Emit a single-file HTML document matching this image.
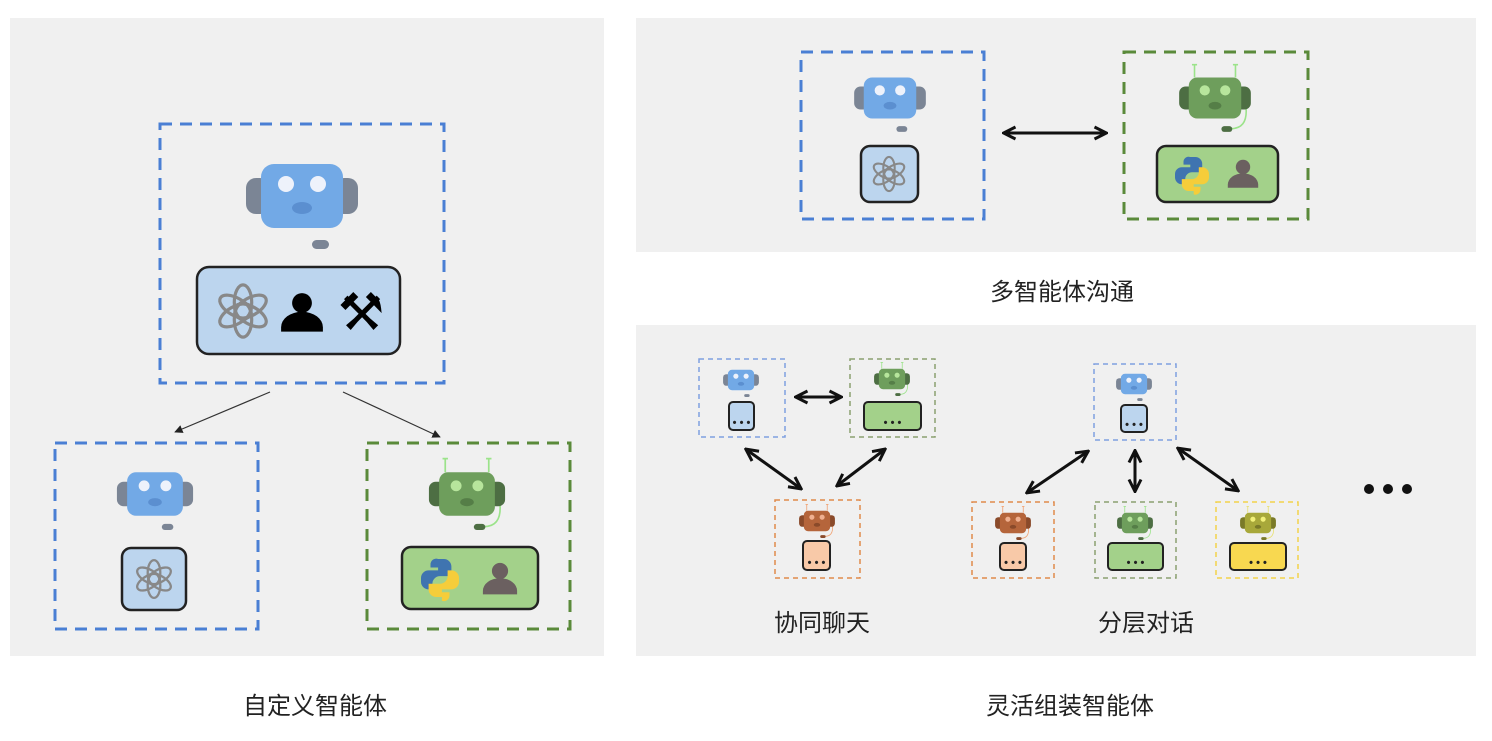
<!DOCTYPE html>
<html><head><meta charset="utf-8"><style>
html,body{margin:0;padding:0;background:#fff;width:1492px;height:741px;overflow:hidden}
svg{display:block}
text{font-family:"Liberation Sans","Noto Sans CJK SC",sans-serif;fill:#222}
</style></head><body>
<svg id="s" width="1492" height="741" viewBox="0 0 1492 741" xmlns="http://www.w3.org/2000/svg">
<defs>
<marker id="ah" viewBox="0 0 10 10" refX="9" refY="5" markerWidth="7" markerHeight="7" orient="auto-start-reverse"><path d="M0,0 L10,5 L0,10 z" fill="#222"/></marker>
<marker id="ah2" viewBox="0 0 10 10" refX="8" refY="5" markerWidth="5" markerHeight="5" orient="auto-start-reverse"><path d="M1,1 L9,5 L1,9" fill="none" stroke="#111" stroke-width="2"/></marker>
</defs>
<rect x="10" y="18" width="594" height="638" fill="#f0f0f0"/>
<rect x="636" y="18" width="840" height="234" fill="#f0f0f0"/>
<rect x="636" y="325" width="840" height="331" fill="#f0f0f0"/>
<g id="g"></g>
<text x="315" y="714" font-size="24" text-anchor="middle">自定义智能体</text>
<text x="1062" y="300" font-size="24" text-anchor="middle">多智能体沟通</text>
<text x="1070" y="714" font-size="24" text-anchor="middle">灵活组装智能体</text>
<text x="822" y="631" font-size="24" text-anchor="middle">协同聊天</text>
<text x="1146" y="631" font-size="24" text-anchor="middle">分层对话</text>
<text x="361" y="330" font-size="52" text-anchor="middle" style="fill:#000">⚒</text>
</svg>
<script>
var C={
 b:{h:'#72a9e6',e:'#7b8595',eye:'#eef2fb',m:'#5b8fd0',c:'#7b8595',ant:null},
 g:{h:'#6e9e5c',e:'#4d6e43',eye:'#b7e59c',m:'#557e47',c:'#4d6e43',ant:'#9be38a'},
 o:{h:'#b5653b',e:'#8a4a2a',eye:'#f0b090',m:'#8a4a2a',c:'#8a4a2a',ant:'#f0a070'},
 y:{h:'#a8a83a',e:'#7a7a28',eye:'#f2f07a',m:'#7a7a28',c:'#7a7a28',ant:'#e8e070'}
};
function bot(cx,cy,s,k){var c=C[k],o='<g transform="translate('+cx+','+cy+') scale('+s+')">';
 if(c.ant){o+='<path d="M-32,-32 V-52 M32,-32 V-52 M-36,-52 h8 M28,-52 h8" stroke="'+c.ant+'" stroke-width="2.5" fill="none"/>';
  o+='<path d="M48,10 C52,40 40,48 24,48" stroke="'+c.ant+'" stroke-width="2.5" fill="none"/>';}
 o+='<rect x="-56" y="-18" width="24" height="36" rx="10" fill="'+c.e+'"/><rect x="32" y="-18" width="24" height="36" rx="10" fill="'+c.e+'"/>';
 o+='<rect x="-41" y="-32" width="82" height="64" rx="13" fill="'+c.h+'"/>';
 o+='<circle cx="-16" cy="-12" r="8" fill="'+c.eye+'"/><circle cx="16" cy="-12" r="8" fill="'+c.eye+'"/>';
 o+='<ellipse cx="0" cy="12" rx="10" ry="6" fill="'+c.m+'"/>';
 o+='<rect x="10" y="44" width="17" height="9" rx="4.5" fill="'+c.c+'"/></g>';return o;}
function box(x1,y1,x2,y2,col,w,d){return '<rect x="'+x1+'" y="'+y1+'" width="'+(x2-x1)+'" height="'+(y2-y1)+'" fill="none" stroke="'+col+'" stroke-width="'+w+'" stroke-dasharray="'+d+'"/>';}
function inner(x1,y1,x2,y2,f,w,r){return '<rect x="'+x1+'" y="'+y1+'" width="'+(x2-x1)+'" height="'+(y2-y1)+'" rx="'+r+'" fill="'+f+'" stroke="#222" stroke-width="'+w+'"/>';}
function dots(cx,cy){return '<text x="'+cx+'" y="'+cy+'" font-size="11" text-anchor="middle" style="fill:#222;font-weight:bold">• • •</text>';}
function oai(cx,cy,s){var o='<g transform="translate('+cx+','+cy+') scale('+s+')" fill="none" stroke="#888" stroke-width="2.2">';
 for(var i=0;i<6;i++)o+='<ellipse cx="0" cy="-6" rx="6" ry="12" transform="rotate('+(i*60)+')"/>';return o+'</g>';}
function person(cx,cy,s,col){return '<g transform="translate('+cx+','+cy+') scale('+s+')" fill="'+col+'"><circle cx="0" cy="-10" r="9"/><path d="M-19,16 v-4 a19,14 0 0 1 38,0 v4 z"/></g>';}
function py(cx,cy,s){return '<g transform="translate('+cx+','+cy+') scale('+s+')"><path d="M-2,-20 h6 a8,8 0 0 1 8,8 v10 h-12 a8,8 0 0 0 -8,8 v6 h-4 a8,8 0 0 1 -8,-8 v-4 a8,8 0 0 1 8,-8 h10 v-3 h-8 v-3 a6,6 0 0 1 8,-6 z" fill="#3f74b0"/><path d="M2,20 h-6 a8,8 0 0 1 -8,-8 v-6 h12 a8,8 0 0 0 8,-8 v-6 h4 a8,8 0 0 1 8,8 v4 a8,8 0 0 1 -8,8 h-10 v3 h8 v3 a6,6 0 0 1 -8,6 z" fill="#f5cd3a"/></g>';}
var h='';
var B='#4a7fd4',G='#5a8a3a',O='#e08a4a',Y='#f2d24a';
h+=box(160,124,444,383,B,3,'12,8');
h+=bot(302,196,1,'b');
h+=inner(197,267,400,354,'#bcd5ee',2.5,12);
h+=oai(243,311,1.45);
h+=person(302,314,1.1,'#000');
h+='<line x1="270" y1="392" x2="175" y2="432" stroke="#333" stroke-width="1.2" marker-end="url(#ah)"/>';
h+='<line x1="343" y1="392" x2="440" y2="437" stroke="#333" stroke-width="1.2" marker-end="url(#ah)"/>';
h+=box(55,443,258,629,B,3,'12,8');
h+=bot(155,494,0.68,'b');
h+=inner(122,548,186,610,'#bcd5ee',2.5,9);
h+=oai(154,579,1.05);
h+=box(367,443,570,629,G,3,'12,8');
h+=bot(467,494,0.68,'g');
h+=inner(402,547,538,609,'#a3d18a',2.5,9);
h+=py(440,578,0.95);
h+=person(500,580,0.9,'#6b6060');
h+=box(801,52,984,219,B,3,'12,8');
h+=bot(890,98,0.64,'b');
h+=inner(861,146,918,202,'#bcd5ee',2.5,9);
h+=oai(889,174,0.95);
h+=box(1124,52,1308,219,G,3,'12,8');
h+=bot(1215,98,0.64,'g');
h+=inner(1157,146,1278,202,'#a3d18a',2.5,9);
h+=py(1192,174,0.85);
h+=person(1243,175,0.8,'#6b6060');
h+='<line x1="1005" y1="133" x2="1105" y2="133" stroke="#111" stroke-width="3" marker-start="url(#ah2)" marker-end="url(#ah2)"/>';
function sm(x1,y1,x2,y2,col,k,rx,ry,ix1,iy1,ix2,iy2,f){
 return box(x1,y1,x2,y2,col,1.5,'5,4')+bot(rx,ry,0.32,k)+inner(ix1,iy1,ix2,iy2,f,2,4)+dots((ix1+ix2)/2,iy2-4);}
h+=sm(699,359,785,437,'#7f9fe0','b',741,380,729,402,754,430,'#bcd5ee');
h+=sm(850,359,935,437,'#8aa070','g',892,379,864,402,921,430,'#a3d18a');
h+=sm(775,500,860,578,O,'o',817,521,803,541,830,570,'#f8c9a8');
h+=sm(1094,364,1176,440,'#7f9fe0','b',1134,384,1121,405,1147,432,'#bcd5ee');
h+=sm(972,502,1054,578,O,'o',1013,523,1000,543,1026,570,'#f8c9a8');
h+=sm(1095,502,1176,578,'#8aa070','g',1135,523,1108,543,1163,570,'#a3d18a');
h+=sm(1216,502,1298,578,Y,'y',1258,523,1230,543,1286,570,'#f8d850');
function ar(a,b,c,d){return '<line x1="'+a+'" y1="'+b+'" x2="'+c+'" y2="'+d+'" stroke="#111" stroke-width="3" marker-start="url(#ah2)" marker-end="url(#ah2)"/>';}
h+=ar(797,397,840,397);
h+=ar(747,450,800,488);
h+=ar(884,450,838,485);
h+=ar(1087,452,1028,492);
h+=ar(1135,452,1135,490);
h+=ar(1179,449,1237,490);
h+='<circle cx="1369" cy="489" r="5" fill="#111"/><circle cx="1388" cy="489" r="5" fill="#111"/><circle cx="1407" cy="489" r="5" fill="#111"/>';
document.getElementById('g').innerHTML=h;
</script>
</body></html>
